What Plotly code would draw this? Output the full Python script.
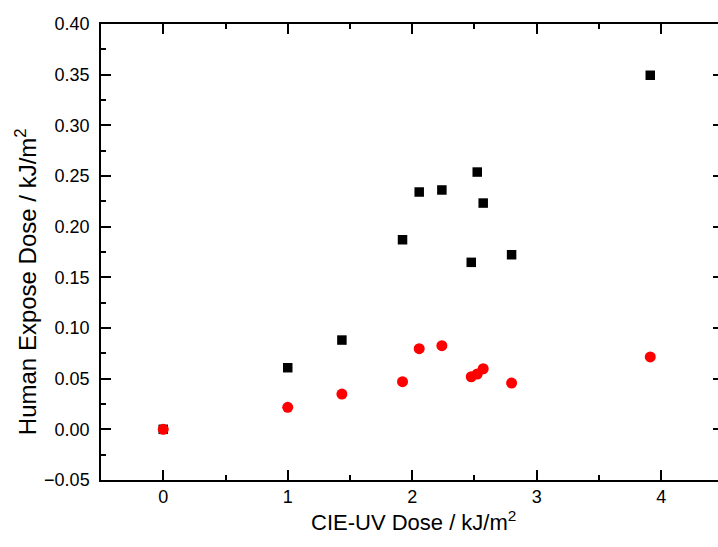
import plotly.graph_objects as go

cie_dose = [0.0, 1.0, 1.435, 1.922, 2.056, 2.238, 2.474, 2.522, 2.570, 2.798, 3.912]
human_black = [0.0, 0.0608, 0.0881, 0.1871, 0.2342, 0.2362, 0.1648, 0.2539, 0.2233, 0.1723, 0.3494]
human_red = [0.0, 0.0217, 0.0348, 0.0470, 0.0796, 0.0825, 0.0519, 0.0546, 0.0598, 0.0457, 0.0714]

x_title = "CIE-UV Dose / kJ/m<sup>2</sup>"
y_title = "Human Expose Dose / kJ/m<sup>2</sup>"

FONT = "Arial, Liberation Sans, sans-serif"

fig = go.Figure()
fig.add_trace(go.Scatter(x=cie_dose, y=human_black, mode="markers",
                         marker=dict(symbol="square", size=9.5, color="black", line=dict(width=0)),
                         showlegend=False))
fig.add_trace(go.Scatter(x=cie_dose, y=human_red, mode="markers",
                         marker=dict(symbol="circle", size=11, color="#ff0000", line=dict(width=0)),
                         showlegend=False))
# dummy trace to make right tick axis render
fig.add_trace(go.Scatter(x=[None], y=[None], yaxis="y2", showlegend=False, hoverinfo="skip"))

fig.update_layout(
    width=718, height=547,
    margin=dict(l=101, r=0, t=24, b=67),
    paper_bgcolor="white", plot_bgcolor="white",
    font=dict(family=FONT, color="black", size=18),
    xaxis=dict(
        range=[-0.5, 4.456], dtick=1, tick0=0,
        ticks="inside", ticklen=10, tickwidth=1.5, tickcolor="black",
        minor=dict(dtick=0.5, ticks="inside", ticklen=5, tickwidth=1.5, tickcolor="black"),
        showline=True, linewidth=1.5, linecolor="black", mirror="ticks",
        showgrid=False, zeroline=False,
        tickfont=dict(size=18),
    ),
    yaxis=dict(
        range=[-0.05, 0.40], dtick=0.05, tick0=0, tickformat=".2f",
        ticks="inside", ticklen=10, tickwidth=1.5, tickcolor="black",
        minor=dict(dtick=0.025, ticks="inside", ticklen=5, tickwidth=1.5, tickcolor="black"),
        showline=True, linewidth=1.5, linecolor="black", mirror=False,
        showgrid=False, zeroline=False,
        tickfont=dict(size=18), ticklabelstandoff=6,
    ),
    yaxis2=dict(
        overlaying="y", side="right", range=[-0.05, 0.40], dtick=0.05, tick0=0,
        ticks="inside", ticklen=5, tickwidth=1.5, tickcolor="black",
        showline=False, showgrid=False, zeroline=False, showticklabels=False,
    ),
    annotations=[
        dict(text=x_title, xref="paper", yref="paper", x=0.5057, y=-0.0899,
             xanchor="center", yanchor="middle", showarrow=False,
             font=dict(size=22, family=FONT, color="black")),
        dict(text=y_title, xref="paper", yref="paper", x=-0.1216, y=0.436,
             xanchor="center", yanchor="middle", showarrow=False, textangle=-90,
             font=dict(size=24, family=FONT, color="black")),
    ],
)

fig.write_html("out.html")
